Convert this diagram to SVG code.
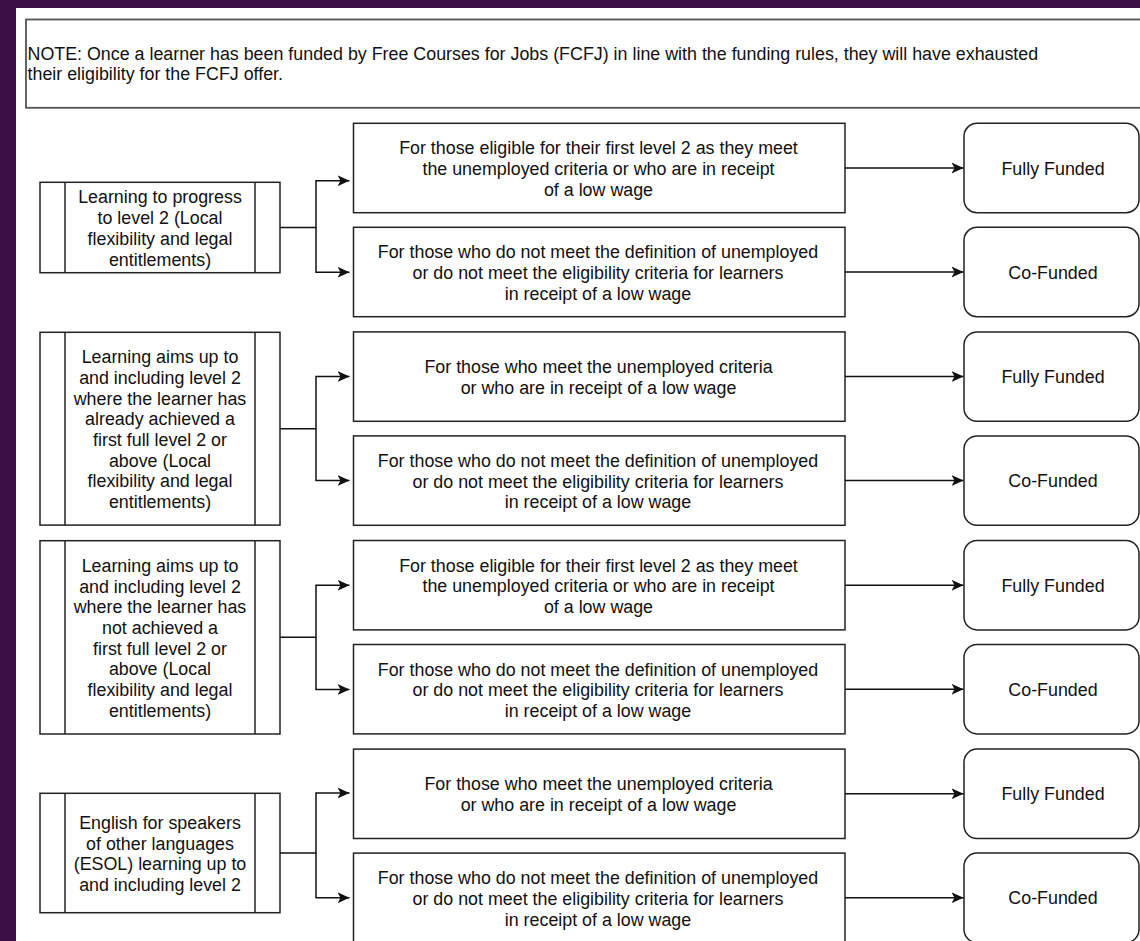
<svg xmlns="http://www.w3.org/2000/svg" width="1140" height="941" viewBox="0 0 1140 941">
<style>
text{font-family:"Liberation Sans",Arial,sans-serif;font-size:17.85px;fill:#111;}
.c{text-anchor:middle;}
.box{fill:#fff;stroke:#222;stroke-width:1.5;}
.ln{fill:none;stroke:#111;stroke-width:1.5;}
.note{fill:#fff;stroke:#555;stroke-width:1.8;}
</style>
<defs>
<marker id="ah" markerUnits="userSpaceOnUse" markerWidth="14" markerHeight="12" viewBox="0 0 14 12" refX="12" refY="6" orient="auto">
<path d="M0,0.5 L12,6 L0,11.5 L3,6 Z" fill="#111"/>
</marker>
</defs>
<rect x="0" y="0" width="1140" height="941" fill="#3c0f45"/>
<rect x="16" y="8" width="1124" height="933" fill="#fff"/>

<g id="note">
<rect class="note" x="26" y="19.5" width="1130" height="88.3"/>
<text x="27.5" y="60">NOTE: Once a learner has been funded by Free Courses for Jobs (FCFJ) in line with the funding rules, they will have exhausted</text>
<text x="27.5" y="79.5">their eligibility for the FCFJ offer.</text>
</g>

<!-- left nodes -->
<g id="n1">
<rect class="box" x="40" y="182.3" width="240" height="90.4"/>
<line class="box" x1="65" y1="182.3" x2="65" y2="272.7"/>
<line class="box" x1="255" y1="182.3" x2="255" y2="272.7"/>
<text class="c"><tspan x="160" y="203.4">Learning to progress</tspan><tspan x="160" y="224.1">to level 2 (Local</tspan><tspan x="160" y="244.8">flexibility and legal</tspan><tspan x="160" y="265.5">entitlements)</tspan></text>
</g>
<g id="n2">
<rect class="box" x="40" y="332.3" width="240" height="192.8"/>
<line class="box" x1="65" y1="332.3" x2="65" y2="525.1"/>
<line class="box" x1="255" y1="332.3" x2="255" y2="525.1"/>
<text class="c"><tspan x="160" y="363.2">Learning aims up to</tspan><tspan x="160" y="383.9">and including level 2</tspan><tspan x="160" y="404.6">where the learner has</tspan><tspan x="160" y="425.3">already achieved a</tspan><tspan x="160" y="446">first full level 2 or</tspan><tspan x="160" y="466.7">above (Local</tspan><tspan x="160" y="487.4">flexibility and legal</tspan><tspan x="160" y="508.1">entitlements)</tspan></text>
</g>
<g id="n3">
<rect class="box" x="40" y="540.7" width="240" height="193.3"/>
<line class="box" x1="65" y1="540.7" x2="65" y2="734"/>
<line class="box" x1="255" y1="540.7" x2="255" y2="734"/>
<text class="c"><tspan x="160" y="571.9">Learning aims up to</tspan><tspan x="160" y="592.6">and including level 2</tspan><tspan x="160" y="613.3">where the learner has</tspan><tspan x="160" y="634">not achieved a</tspan><tspan x="160" y="654.7">first full level 2 or</tspan><tspan x="160" y="675.4">above (Local</tspan><tspan x="160" y="696.1">flexibility and legal</tspan><tspan x="160" y="716.8">entitlements)</tspan></text>
</g>
<g id="n4">
<rect class="box" x="40" y="793.3" width="240" height="119.4"/>
<line class="box" x1="65" y1="793.3" x2="65" y2="912.7"/>
<line class="box" x1="255" y1="793.3" x2="255" y2="912.7"/>
<text class="c"><tspan x="160" y="829">English for speakers</tspan><tspan x="160" y="849.7">of other languages</tspan><tspan x="160" y="870.4">(ESOL) learning up to</tspan><tspan x="160" y="891.1">and including level 2</tspan></text>
</g>

<!-- middle boxes -->
<g id="m1a">
<rect class="box" x="353.5" y="123.3" width="491.5" height="89.4"/>
<text class="c"><tspan x="598.5" y="154.3">For those eligible for their first level 2 as they meet</tspan><tspan x="598.5" y="175">the unemployed criteria or who are in receipt</tspan><tspan x="598.5" y="195.7">of a low wage</tspan></text>
</g>
<g id="m1b">
<rect class="box" x="353.5" y="227.3" width="491.5" height="89.4"/>
<text class="c"><tspan x="598" y="258.3">For those who do not meet the definition of unemployed</tspan><tspan x="598" y="279">or do not meet the eligibility criteria for learners</tspan><tspan x="598" y="299.7">in receipt of a low wage</tspan></text>
</g>
<g id="m2a">
<rect class="box" x="353.5" y="331.9" width="491.5" height="89.4"/>
<text class="c"><tspan x="598.5" y="373.2">For those who meet the unemployed criteria</tspan><tspan x="598.5" y="393.9">or who are in receipt of a low wage</tspan></text>
</g>
<g id="m2b">
<rect class="box" x="353.5" y="435.9" width="491.5" height="89.4"/>
<text class="c"><tspan x="598" y="466.9">For those who do not meet the definition of unemployed</tspan><tspan x="598" y="487.6">or do not meet the eligibility criteria for learners</tspan><tspan x="598" y="508.3">in receipt of a low wage</tspan></text>
</g>
<g id="m3a">
<rect class="box" x="353.5" y="540.5" width="491.5" height="89.4"/>
<text class="c"><tspan x="598.5" y="571.5">For those eligible for their first level 2 as they meet</tspan><tspan x="598.5" y="592.2">the unemployed criteria or who are in receipt</tspan><tspan x="598.5" y="612.9">of a low wage</tspan></text>
</g>
<g id="m3b">
<rect class="box" x="353.5" y="644.5" width="491.5" height="89.4"/>
<text class="c"><tspan x="598" y="675.5">For those who do not meet the definition of unemployed</tspan><tspan x="598" y="696.2">or do not meet the eligibility criteria for learners</tspan><tspan x="598" y="716.9">in receipt of a low wage</tspan></text>
</g>
<g id="m4a">
<rect class="box" x="353.5" y="749.1" width="491.5" height="89.4"/>
<text class="c"><tspan x="598.5" y="790.4">For those who meet the unemployed criteria</tspan><tspan x="598.5" y="811.1">or who are in receipt of a low wage</tspan></text>
</g>
<g id="m4b">
<rect class="box" x="353.5" y="853.1" width="491.5" height="89.4"/>
<text class="c"><tspan x="598" y="884.1">For those who do not meet the definition of unemployed</tspan><tspan x="598" y="904.8">or do not meet the eligibility criteria for learners</tspan><tspan x="598" y="925.5">in receipt of a low wage</tspan></text>
</g>

<!-- right boxes -->
<g id="r1a"><rect class="box" x="964" y="123.3" width="175" height="89.4" rx="13"/><text class="c" x="1053" y="174.5">Fully Funded</text></g>
<g id="r1b"><rect class="box" x="964" y="227.3" width="175" height="89.4" rx="13"/><text class="c" x="1053" y="278.5">Co-Funded</text></g>
<g id="r2a"><rect class="box" x="964" y="331.9" width="175" height="89.4" rx="13"/><text class="c" x="1053" y="383.1">Fully Funded</text></g>
<g id="r2b"><rect class="box" x="964" y="435.9" width="175" height="89.4" rx="13"/><text class="c" x="1053" y="487.1">Co-Funded</text></g>
<g id="r3a"><rect class="box" x="964" y="540.5" width="175" height="89.4" rx="13"/><text class="c" x="1053" y="591.7">Fully Funded</text></g>
<g id="r3b"><rect class="box" x="964" y="644.5" width="175" height="89.4" rx="13"/><text class="c" x="1053" y="695.7">Co-Funded</text></g>
<g id="r4a"><rect class="box" x="964" y="749.1" width="175" height="89.4" rx="13"/><text class="c" x="1053" y="800.3">Fully Funded</text></g>
<g id="r4b"><rect class="box" x="964" y="853.1" width="175" height="89.4" rx="13"/><text class="c" x="1053" y="904.3">Co-Funded</text></g>

<g id="connectors">
<path class="ln" d="M280,227.5 H316 V180.7 H349.5" marker-end="url(#ah)"/>
<path class="ln" d="M316,227.5 V272.2 H349.5" marker-end="url(#ah)"/>
<path class="ln" d="M280,428.7 H316 V376.6 H349.5" marker-end="url(#ah)"/>
<path class="ln" d="M316,428.7 V480.6 H349.5" marker-end="url(#ah)"/>
<path class="ln" d="M280,637.3 H316 V585.2 H349.5" marker-end="url(#ah)"/>
<path class="ln" d="M316,637.3 V689.5 H349.5" marker-end="url(#ah)"/>
<path class="ln" d="M280,853 H316 V793 H349.5" marker-end="url(#ah)"/>
<path class="ln" d="M316,853 V897.8 H349.5" marker-end="url(#ah)"/>
<path class="ln" d="M845,168 H963.5" marker-end="url(#ah)"/>
<path class="ln" d="M845,272 H963.5" marker-end="url(#ah)"/>
<path class="ln" d="M845,376.6 H963.5" marker-end="url(#ah)"/>
<path class="ln" d="M845,480.6 H963.5" marker-end="url(#ah)"/>
<path class="ln" d="M845,585.2 H963.5" marker-end="url(#ah)"/>
<path class="ln" d="M845,689.2 H963.5" marker-end="url(#ah)"/>
<path class="ln" d="M845,793.8 H963.5" marker-end="url(#ah)"/>
<path class="ln" d="M845,897.8 H963.5" marker-end="url(#ah)"/>
</g>
</svg>
